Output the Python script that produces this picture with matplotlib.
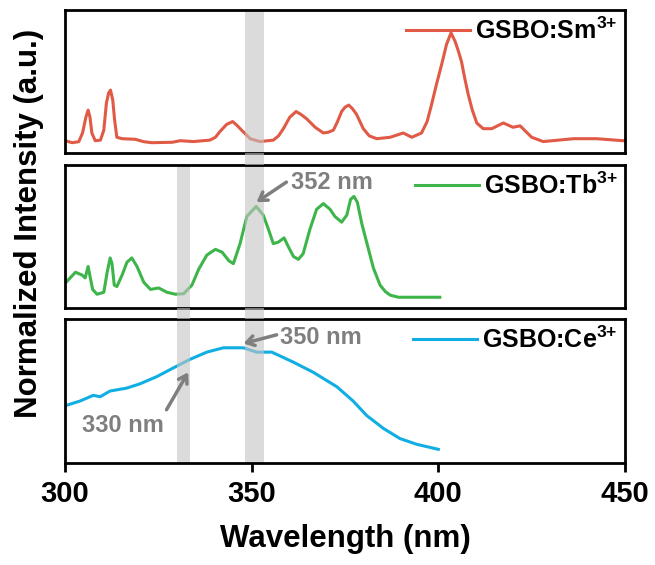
import matplotlib
matplotlib.use('Agg')
import matplotlib.pyplot as plt
from matplotlib.patches import Rectangle
from matplotlib.transforms import blended_transform_factory

plt.rcParams['font.family'] = ['Liberation Sans', 'DejaVu Sans']
plt.rcParams['font.weight'] = 'bold'
plt.rcParams['mathtext.fontset'] = 'custom'
plt.rcParams['mathtext.rm'] = 'Liberation Sans:bold'
plt.rcParams['mathtext.bf'] = 'Liberation Sans:bold'
plt.rcParams['mathtext.default'] = 'bf'

# excitation spectra, intensity scaled to each panel height
sm_wl = [300.1, 301.9, 303.7, 304.7, 305.6, 306.2, 306.7, 307.2, 308.1, 309.5,
         310.4, 311.1, 311.7, 312.2, 312.8, 313.3, 313.9, 315.3, 318.8, 321.1,
         323.3, 328.7, 330.9, 334.4, 338.8, 340.3, 341.5, 343.3, 344.9, 346.2,
         347.3, 349.6, 352.2, 355.8, 357.2, 358.5, 360.2, 361.9, 363.2, 364.7,
         367.0, 369.2, 370.5, 371.9, 373.0, 374.1, 375.0, 376.0, 377.0, 378.1,
         379.0, 379.9, 381.5, 383.5, 387.1, 390.6, 392.9, 395.5, 397.0, 398.2,
         399.5, 400.9, 402.2, 403.4, 404.5, 405.4, 406.2, 407.1, 408.0, 409.1,
         410.3, 412.0, 414.3, 417.4, 420.0, 421.9, 425.0, 428.1, 436.2, 442.4,
         450.0]
sm_int = [0.086, 0.072, 0.079, 0.14, 0.25, 0.30, 0.25, 0.14, 0.086, 0.09,
          0.16, 0.35, 0.42, 0.44, 0.37, 0.23, 0.11, 0.10, 0.096, 0.079,
          0.072, 0.075, 0.086, 0.08, 0.09, 0.11, 0.15, 0.20, 0.22, 0.19,
          0.16, 0.10, 0.08, 0.09, 0.12, 0.17, 0.25, 0.29, 0.27, 0.24,
          0.18, 0.14, 0.145, 0.16, 0.22, 0.29, 0.32, 0.335, 0.31, 0.27,
          0.22, 0.17, 0.12, 0.10, 0.11, 0.14, 0.11, 0.14, 0.22, 0.34,
          0.48, 0.62, 0.76, 0.84, 0.78, 0.71, 0.64, 0.52, 0.41, 0.30,
          0.21, 0.17, 0.17, 0.21, 0.18, 0.19, 0.11, 0.08, 0.10, 0.10,
          0.085]

tb_wl = [300.3, 302.8, 304.6, 305.4, 306.2, 306.8, 307.4, 308.6, 310.4, 311.3,
         312.1, 312.6, 313.2, 313.9, 315.3, 316.6, 317.9, 319.3, 321.1, 322.9,
         325.1, 327.3, 329.6, 331.8, 334.0, 335.8, 338.0, 340.3, 342.1, 343.9,
         345.1, 346.9, 348.7, 351.2, 353.1, 354.5, 355.8, 357.1, 358.7, 359.8,
         361.2, 362.5, 363.8, 365.6, 367.4, 369.2, 371.0, 372.3, 374.1, 375.5,
         376.5, 377.4, 378.3, 379.5, 381.3, 382.6, 384.4, 385.8, 387.1, 389.3,
         400.4]
tb_int = [0.18, 0.25, 0.23, 0.21, 0.29, 0.21, 0.13, 0.096, 0.11, 0.25,
          0.35, 0.31, 0.16, 0.15, 0.23, 0.32, 0.35, 0.29, 0.18, 0.13,
          0.14, 0.11, 0.096, 0.10, 0.16, 0.27, 0.37, 0.41, 0.39, 0.33,
          0.31, 0.45, 0.64, 0.71, 0.65, 0.55, 0.45, 0.46, 0.49, 0.43,
          0.36, 0.34, 0.38, 0.55, 0.69, 0.73, 0.69, 0.64, 0.60, 0.65,
          0.76, 0.78, 0.74, 0.59, 0.41, 0.28, 0.16, 0.115, 0.09, 0.075,
          0.075]

ce_wl = [300.3, 304.0, 307.6, 309.4, 312.1, 316.5, 320.1, 324.6, 329.0, 333.5,
         338.0, 342.4, 347.8, 351.3, 355.4, 361.2, 366.5, 372.8, 377.2, 380.8,
         385.3, 389.7, 394.2, 400.0]
ce_int = [0.40, 0.43, 0.47, 0.46, 0.50, 0.52, 0.55, 0.60, 0.66, 0.72,
          0.77, 0.80, 0.80, 0.77, 0.77, 0.70, 0.63, 0.53, 0.43, 0.33,
          0.24, 0.17, 0.13, 0.095]

series = [
    (sm_wl, sm_int, 'GSBO:Sm$^{3{+}}$', '#E05A45'),
    (tb_wl, tb_int, 'GSBO:Tb$^{3{+}}$', '#3DB54A'),
    (ce_wl, ce_int, 'GSBO:Ce$^{3{+}}$', '#10AEE3'),
]

band_350 = (348.2, 353.3)
band_330 = (330.0, 333.5)
band_color = (0.77, 0.77, 0.77)
arrow_gray = '#7F7F7F'

fig = plt.figure(figsize=(6.55, 5.65), dpi=100)
left, width = 0.0992, 0.855
panel_pos = [(0.7292, 0.2531), (0.4549, 0.2531), (0.1805, 0.2549)]
axes = []
for (bottom, height), (wl, inten, label, color) in zip(panel_pos, series):
    ax = fig.add_axes([left, bottom, width, height])
    ax.plot(wl, inten, color=color, lw=2.2, label=label)
    ax.set_xlim(300, 450)
    ax.set_ylim(0, 1)
    ax.set_yticks([])
    for s in ax.spines.values():
        s.set_linewidth(2.0)
        s.set_zorder(4)
    ax.legend(loc='upper right', frameon=False, fontsize=18,
              handlelength=2.55, handletextpad=0.2, borderaxespad=0.1,
              borderpad=0.2, bbox_to_anchor=(1.0, 1.0))
    axes.append(ax)

ax_sm, ax_tb, ax_ce = axes
for ax in (ax_sm, ax_tb):
    ax.set_xticks([])
ax_ce.set_xticks([300, 350, 400, 450])
ax_ce.tick_params(axis='x', direction='out', length=6.5, width=2,
                  labelsize=21, pad=6)

# highlight bands through panels and across the gaps between them
ax_sm.axvspan(*band_350, color=band_color, alpha=0.6, lw=0, zorder=3)
ax_tb.axvspan(*band_350, color=band_color, alpha=0.6, lw=0, zorder=3)
ax_ce.axvspan(*band_350, color=band_color, alpha=0.6, lw=0, zorder=3)
ax_tb.axvspan(*band_330, color=band_color, alpha=0.6, lw=0, zorder=3)
ax_ce.axvspan(*band_330, color=band_color, alpha=0.6, lw=0, zorder=3)

trans = blended_transform_factory(ax_ce.transData, fig.transFigure)
gaps = [(panel_pos[1][0] + panel_pos[1][1], panel_pos[0][0]),
        (panel_pos[2][0] + panel_pos[2][1], panel_pos[1][0])]
for i, (y0, y1) in enumerate(gaps):
    bands = [band_350] if i == 0 else [band_350, band_330]
    for x0, x1 in bands:
        fig.add_artist(Rectangle((x0, y0), x1 - x0, y1 - y0, transform=trans,
                                 facecolor=band_color, alpha=0.6, lw=0))

arrow = dict(arrowstyle='->,head_length=0.55,head_width=0.35', color=arrow_gray,
             lw=2.5, shrinkA=0, shrinkB=0)
ax_tb.annotate('', xy=(351.3, 0.74), xytext=(359.3, 0.88), arrowprops=arrow,
               zorder=5)
ax_tb.text(360.6, 0.88, '352 nm', color=arrow_gray, fontsize=17,
           ha='left', va='center', zorder=5)
ax_ce.annotate('', xy=(347.8, 0.83), xytext=(356.7, 0.89), arrowprops=arrow,
               zorder=5)
ax_ce.text(357.6, 0.87, '350 nm', color=arrow_gray, fontsize=17,
           ha='left', va='center', zorder=5)
ax_ce.annotate('', xy=(333.0, 0.63), xytext=(327.2, 0.37), arrowprops=arrow,
               zorder=5)
ax_ce.text(315.6, 0.26, '330 nm', color=arrow_gray, fontsize=17,
           ha='center', va='center', zorder=5)

fig.text(0.044, 0.604, 'Normalized Intensity (a.u.)', rotation=90,
         fontsize=22.5, ha='center', va='center')
fig.text(0.528, 0.046, 'Wavelength (nm)', fontsize=22.5,
         ha='center', va='center')

fig.savefig('out.png', dpi=100)
